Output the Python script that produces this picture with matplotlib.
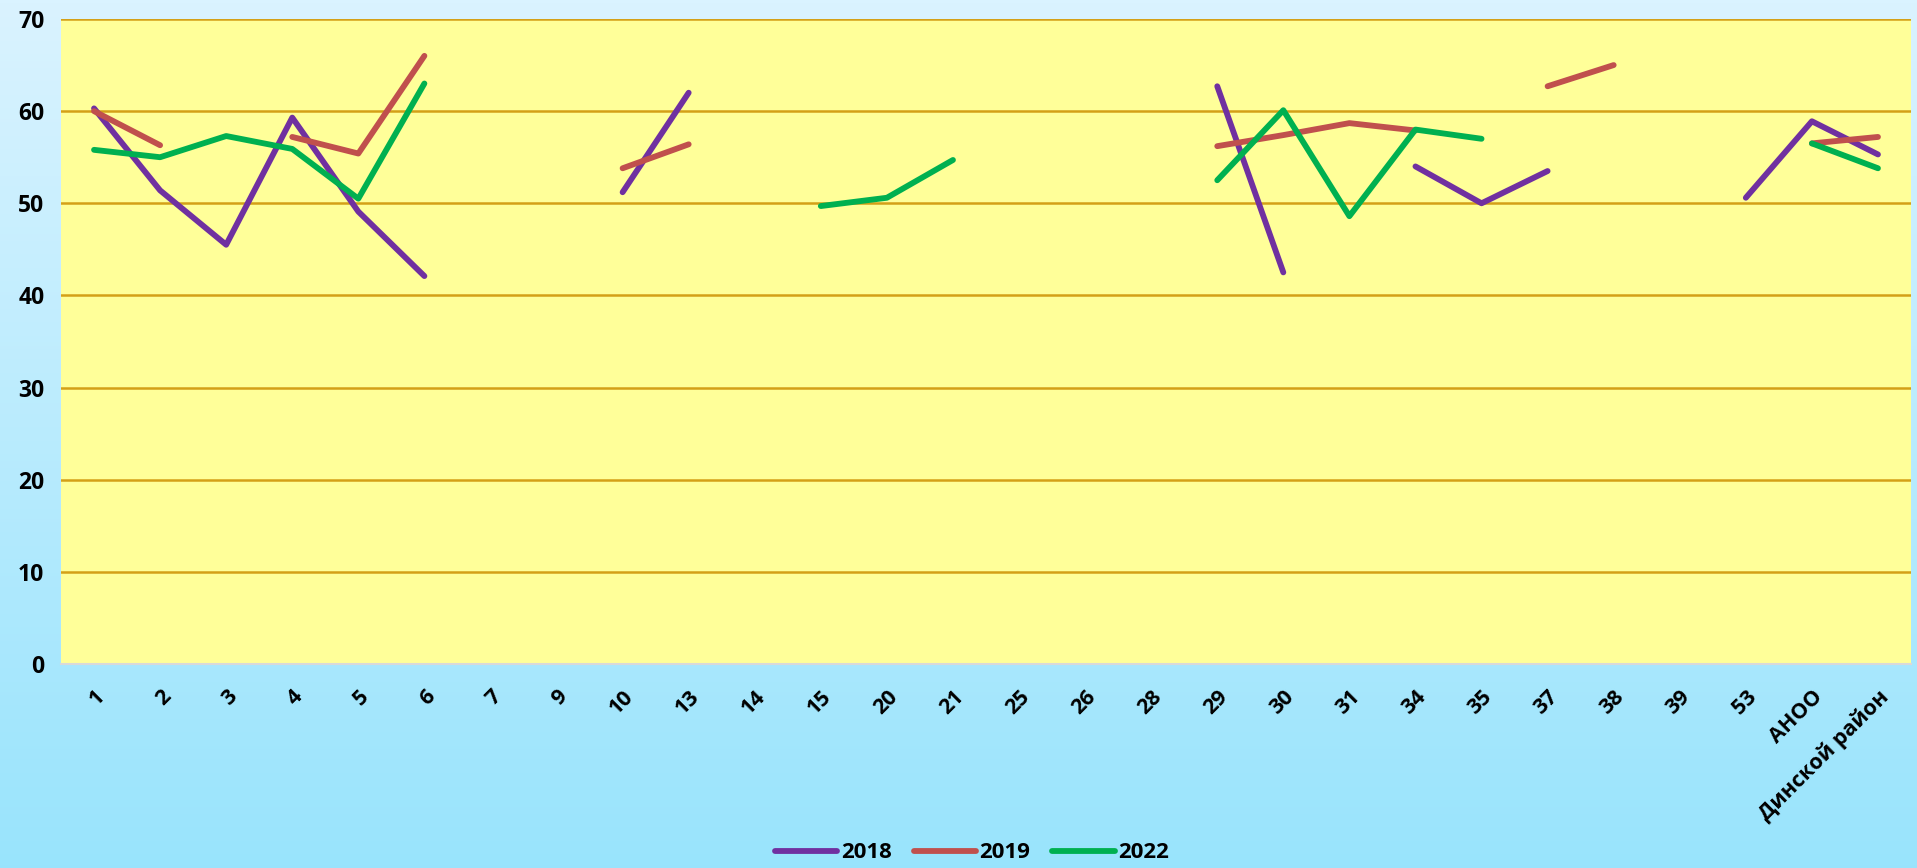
import numpy as np
import matplotlib.pyplot as plt

plt.rcParams['font.family'] = ['Open Sans', 'DejaVu Sans']
plt.rcParams['font.weight'] = 'bold'

nan = np.nan

categories = ['1', '2', '3', '4', '5', '6', '7', '9', '10', '13', '14', '15', '20', '21',
              '25', '26', '28', '29', '30', '31', '34', '35', '37', '38', '39', '53',
              'АНОО', 'Динской район']

y2018 = [60.3, 51.4, 45.5, 59.3, 49.1, 42.1, nan, nan, 51.2, 62.0, nan, nan, nan, nan,
         nan, nan, nan, 62.7, 42.5, nan, 54.0, 50.0, 53.5, nan, nan, 50.6, 58.9, 55.3]
y2019 = [60.0, 56.3, nan, 57.2, 55.4, 66.0, nan, nan, 53.8, 56.4, nan, nan, nan, nan,
         nan, nan, nan, 56.2, 57.4, 58.7, 57.9, nan, 62.7, 65.0, nan, nan, 56.5, 57.2]
y2022 = [55.8, 55.0, 57.3, 55.9, 50.5, 63.0, nan, nan, nan, nan, nan, 49.7, 50.6, 54.7,
         nan, nan, nan, 52.5, 60.1, 48.6, 58.0, 57.0, nan, nan, nan, nan, 56.5, 53.8]

series = [('2018', y2018, '#7030A0'), ('2019', y2019, '#C0504D'), ('2022', y2022, '#00B050')]

fig = plt.figure(figsize=(19.17, 8.68), dpi=100)

# фон с градиентом
bg = fig.add_axes([0, 0, 1, 1], zorder=-1)
grad = np.linspace(0, 1, 256).reshape(-1, 1)
top = np.array([0.855, 0.953, 1.0])
bot = np.array([0.60, 0.894, 0.99])
img = top + (bot - top) * grad[:, :, None]
bg.imshow(img, aspect='auto', extent=[0, 1, 0, 1])
bg.axis('off')

W, H = 1917, 868
ax = fig.add_axes([61 / W, 1 - 664 / H, 1850 / W, 645 / H])
ax.set_facecolor('#FFFF99')

x = np.arange(len(categories))
for name, vals, col in series:
    ax.plot(x, vals, color=col, lw=4.2, solid_capstyle='round',
            solid_joinstyle='round', label=name, zorder=3)

ax.set_xlim(-0.5, len(categories) - 0.5)
ax.set_ylim(0, 70)
ax.set_yticks(range(0, 71, 10))
ax.yaxis.grid(True, color='#D4A017', lw=1.8)
ax.set_axisbelow(True)
for s in ['top', 'right', 'left']:
    ax.spines[s].set_visible(False)
ax.spines['bottom'].set_color('#D9D9D9')
ax.spines['bottom'].set_linewidth(1.5)
ax.tick_params(length=0)
ax.tick_params(axis='y', labelsize=16.5, pad=12)
ax.set_xticks(x)
ax.set_xticklabels(categories, rotation=45, ha='right', rotation_mode='anchor',
                   fontsize=15.5, fontweight='bold')
ax.tick_params(axis='x', pad=16)
for t in ax.get_yticklabels():
    t.set_fontweight('bold')

leg = fig.legend(loc='center', bbox_to_anchor=(972 / W, 1 - 853 / H), ncol=3,
                 frameon=False, fontsize=16, handlelength=2.8, handletextpad=0.15,
                 columnspacing=1.0)
for t in leg.get_texts():
    t.set_fontweight('bold')

fig.savefig('out.png', dpi=100)
